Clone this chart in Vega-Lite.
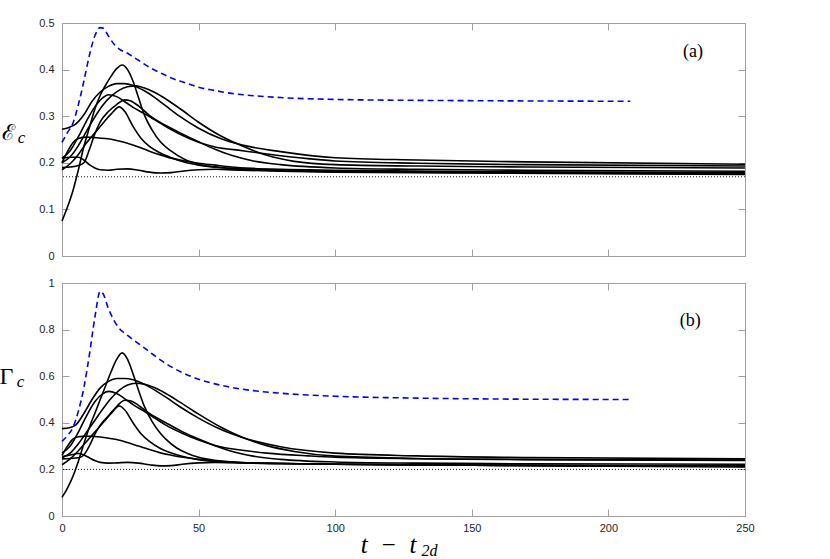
{
"$schema": "https://vega.github.io/schema/vega-lite/v6.json",
"autosize": {"type": "pad"},
"padding": {"left": -2, "top": 16, "right": 10, "bottom": 0},
"background": "white",
"spacing": 27,
"bounds": "flush",
"config": {
 "view": {"stroke": "#a0a0a0", "strokeWidth": 1},
 "axis": {"grid": false, "domain": false, "labelFlush": false, "tickColor": "#a0a0a0", "tickSize": -7, "tickWidth": 1, "labelFont": "Liberation Sans", "labelFontSize": 11, "labelColor": "#262626", "titleColor": "black", "titleFontWeight": "normal"},
 "axisY": {"labelPadding": 15},
 "axisX": {"labelPadding": 13}
},
"datasets": {
 "refs": [
  {"p": "a", "ref": 0.17, "label": "(a)", "lx": 231, "ly": 0.438},
  {"p": "b", "ref": 0.2, "label": "(b)", "lx": 230, "ly": 0.839}
 ],
 "curves": [
{"p":"a","s":"k1","t":0,"v":0.075},{"p":"a","s":"k1","t":2,"v":0.105},{"p":"a","s":"k1","t":4,"v":0.14},{"p":"a","s":"k1","t":6,"v":0.185},{"p":"a","s":"k1","t":8,"v":0.235},{"p":"a","s":"k1","t":10,"v":0.275},{"p":"a","s":"k1","t":12,"v":0.315},{"p":"a","s":"k1","t":14,"v":0.345},{"p":"a","s":"k1","t":16,"v":0.367},{"p":"a","s":"k1","t":18,"v":0.386},{"p":"a","s":"k1","t":20,"v":0.402},{"p":"a","s":"k1","t":22,"v":0.41},{"p":"a","s":"k1","t":24,"v":0.4},{"p":"a","s":"k1","t":26,"v":0.375},{"p":"a","s":"k1","t":28,"v":0.34},{"p":"a","s":"k1","t":30,"v":0.305},{"p":"a","s":"k1","t":33,"v":0.27},{"p":"a","s":"k1","t":36,"v":0.245},{"p":"a","s":"k1","t":40,"v":0.225},{"p":"a","s":"k1","t":45,"v":0.207},{"p":"a","s":"k1","t":50,"v":0.197},{"p":"a","s":"k1","t":58,"v":0.19},{"p":"a","s":"k1","t":66,"v":0.186},{"p":"a","s":"k1","t":80,"v":0.183},{"p":"a","s":"k1","t":100,"v":0.181},{"p":"a","s":"k1","t":130,"v":0.18},{"p":"a","s":"k1","t":170,"v":0.178},{"p":"a","s":"k1","t":250,"v":0.176},
{"p":"a","s":"k2","t":0,"v":0.272},{"p":"a","s":"k2","t":3,"v":0.277},{"p":"a","s":"k2","t":5,"v":0.283},{"p":"a","s":"k2","t":8,"v":0.303},{"p":"a","s":"k2","t":11,"v":0.332},{"p":"a","s":"k2","t":14,"v":0.352},{"p":"a","s":"k2","t":17,"v":0.364},{"p":"a","s":"k2","t":20,"v":0.37},{"p":"a","s":"k2","t":23,"v":0.37},{"p":"a","s":"k2","t":26,"v":0.366},{"p":"a","s":"k2","t":30,"v":0.355},{"p":"a","s":"k2","t":34,"v":0.34},{"p":"a","s":"k2","t":38,"v":0.322},{"p":"a","s":"k2","t":43,"v":0.3},{"p":"a","s":"k2","t":50,"v":0.274},{"p":"a","s":"k2","t":58,"v":0.252},{"p":"a","s":"k2","t":66,"v":0.238},{"p":"a","s":"k2","t":80,"v":0.224},{"p":"a","s":"k2","t":100,"v":0.211},{"p":"a","s":"k2","t":130,"v":0.206},{"p":"a","s":"k2","t":170,"v":0.202},{"p":"a","s":"k2","t":250,"v":0.197},
{"p":"a","s":"k3","t":0,"v":0.2},{"p":"a","s":"k3","t":3,"v":0.213},{"p":"a","s":"k3","t":6,"v":0.237},{"p":"a","s":"k3","t":9,"v":0.268},{"p":"a","s":"k3","t":12,"v":0.298},{"p":"a","s":"k3","t":15,"v":0.324},{"p":"a","s":"k3","t":18,"v":0.343},{"p":"a","s":"k3","t":21,"v":0.356},{"p":"a","s":"k3","t":24,"v":0.363},{"p":"a","s":"k3","t":27,"v":0.365},{"p":"a","s":"k3","t":30,"v":0.361},{"p":"a","s":"k3","t":34,"v":0.351},{"p":"a","s":"k3","t":38,"v":0.337},{"p":"a","s":"k3","t":43,"v":0.317},{"p":"a","s":"k3","t":50,"v":0.287},{"p":"a","s":"k3","t":58,"v":0.258},{"p":"a","s":"k3","t":66,"v":0.236},{"p":"a","s":"k3","t":75,"v":0.216},{"p":"a","s":"k3","t":85,"v":0.203},{"p":"a","s":"k3","t":100,"v":0.196},{"p":"a","s":"k3","t":130,"v":0.193},{"p":"a","s":"k3","t":170,"v":0.191},{"p":"a","s":"k3","t":250,"v":0.189},
{"p":"a","s":"k4","t":0,"v":0.21},{"p":"a","s":"k4","t":3,"v":0.226},{"p":"a","s":"k4","t":6,"v":0.256},{"p":"a","s":"k4","t":9,"v":0.29},{"p":"a","s":"k4","t":12,"v":0.32},{"p":"a","s":"k4","t":15,"v":0.34},{"p":"a","s":"k4","t":17,"v":0.346},{"p":"a","s":"k4","t":20,"v":0.342},{"p":"a","s":"k4","t":23,"v":0.331},{"p":"a","s":"k4","t":26,"v":0.319},{"p":"a","s":"k4","t":30,"v":0.306},{"p":"a","s":"k4","t":34,"v":0.292},{"p":"a","s":"k4","t":38,"v":0.278},{"p":"a","s":"k4","t":44,"v":0.259},{"p":"a","s":"k4","t":50,"v":0.244},{"p":"a","s":"k4","t":56,"v":0.234},{"p":"a","s":"k4","t":66,"v":0.226},{"p":"a","s":"k4","t":75,"v":0.219},{"p":"a","s":"k4","t":90,"v":0.209},{"p":"a","s":"k4","t":100,"v":0.204},{"p":"a","s":"k4","t":130,"v":0.199},{"p":"a","s":"k4","t":170,"v":0.196},{"p":"a","s":"k4","t":250,"v":0.193},
{"p":"a","s":"k5","t":0,"v":0.19},{"p":"a","s":"k5","t":3,"v":0.191},{"p":"a","s":"k5","t":6,"v":0.194},{"p":"a","s":"k5","t":8,"v":0.2},{"p":"a","s":"k5","t":10,"v":0.228},{"p":"a","s":"k5","t":12,"v":0.262},{"p":"a","s":"k5","t":14,"v":0.288},{"p":"a","s":"k5","t":17,"v":0.31},{"p":"a","s":"k5","t":20,"v":0.325},{"p":"a","s":"k5","t":23,"v":0.335},{"p":"a","s":"k5","t":25,"v":0.333},{"p":"a","s":"k5","t":28,"v":0.322},{"p":"a","s":"k5","t":32,"v":0.302},{"p":"a","s":"k5","t":38,"v":0.28},{"p":"a","s":"k5","t":44,"v":0.262},{"p":"a","s":"k5","t":50,"v":0.245},{"p":"a","s":"k5","t":56,"v":0.229},{"p":"a","s":"k5","t":62,"v":0.216},{"p":"a","s":"k5","t":70,"v":0.204},{"p":"a","s":"k5","t":80,"v":0.196},{"p":"a","s":"k5","t":100,"v":0.189},{"p":"a","s":"k5","t":130,"v":0.186},{"p":"a","s":"k5","t":170,"v":0.184},{"p":"a","s":"k5","t":250,"v":0.182},
{"p":"a","s":"k6","t":0,"v":0.185},{"p":"a","s":"k6","t":3,"v":0.198},{"p":"a","s":"k6","t":6,"v":0.218},{"p":"a","s":"k6","t":9,"v":0.243},{"p":"a","s":"k6","t":12,"v":0.264},{"p":"a","s":"k6","t":15,"v":0.285},{"p":"a","s":"k6","t":18,"v":0.305},{"p":"a","s":"k6","t":21,"v":0.32},{"p":"a","s":"k6","t":23,"v":0.31},{"p":"a","s":"k6","t":26,"v":0.278},{"p":"a","s":"k6","t":29,"v":0.252},{"p":"a","s":"k6","t":32,"v":0.235},{"p":"a","s":"k6","t":36,"v":0.221},{"p":"a","s":"k6","t":40,"v":0.211},{"p":"a","s":"k6","t":45,"v":0.201},{"p":"a","s":"k6","t":50,"v":0.195},{"p":"a","s":"k6","t":60,"v":0.189},{"p":"a","s":"k6","t":80,"v":0.185},{"p":"a","s":"k6","t":100,"v":0.182},{"p":"a","s":"k6","t":150,"v":0.18},{"p":"a","s":"k6","t":250,"v":0.178},
{"p":"a","s":"k7","t":0,"v":0.2},{"p":"a","s":"k7","t":2,"v":0.224},{"p":"a","s":"k7","t":4,"v":0.243},{"p":"a","s":"k7","t":6,"v":0.252},{"p":"a","s":"k7","t":9,"v":0.255},{"p":"a","s":"k7","t":12,"v":0.254},{"p":"a","s":"k7","t":16,"v":0.252},{"p":"a","s":"k7","t":20,"v":0.248},{"p":"a","s":"k7","t":24,"v":0.242},{"p":"a","s":"k7","t":28,"v":0.234},{"p":"a","s":"k7","t":32,"v":0.225},{"p":"a","s":"k7","t":36,"v":0.217},{"p":"a","s":"k7","t":40,"v":0.21},{"p":"a","s":"k7","t":45,"v":0.204},{"p":"a","s":"k7","t":50,"v":0.199},{"p":"a","s":"k7","t":56,"v":0.195},{"p":"a","s":"k7","t":62,"v":0.191},{"p":"a","s":"k7","t":70,"v":0.188},{"p":"a","s":"k7","t":80,"v":0.186},{"p":"a","s":"k7","t":100,"v":0.184},{"p":"a","s":"k7","t":150,"v":0.181},{"p":"a","s":"k7","t":250,"v":0.179},
{"p":"a","s":"k8","t":0,"v":0.21},{"p":"a","s":"k8","t":3,"v":0.212},{"p":"a","s":"k8","t":6,"v":0.212},{"p":"a","s":"k8","t":8,"v":0.206},{"p":"a","s":"k8","t":10,"v":0.196},{"p":"a","s":"k8","t":12,"v":0.189},{"p":"a","s":"k8","t":14,"v":0.185},{"p":"a","s":"k8","t":17,"v":0.184},{"p":"a","s":"k8","t":20,"v":0.186},{"p":"a","s":"k8","t":24,"v":0.187},{"p":"a","s":"k8","t":28,"v":0.184},{"p":"a","s":"k8","t":32,"v":0.18},{"p":"a","s":"k8","t":36,"v":0.178},{"p":"a","s":"k8","t":40,"v":0.179},{"p":"a","s":"k8","t":44,"v":0.182},{"p":"a","s":"k8","t":50,"v":0.185},{"p":"a","s":"k8","t":56,"v":0.186},{"p":"a","s":"k8","t":66,"v":0.184},{"p":"a","s":"k8","t":80,"v":0.182},{"p":"a","s":"k8","t":100,"v":0.18},{"p":"a","s":"k8","t":150,"v":0.178},{"p":"a","s":"k8","t":250,"v":0.175},
{"p":"a","s":"blue","t":0,"v":0.244},{"p":"a","s":"blue","t":2,"v":0.265},{"p":"a","s":"blue","t":4,"v":0.285},{"p":"a","s":"blue","t":6,"v":0.325},{"p":"a","s":"blue","t":8,"v":0.375},{"p":"a","s":"blue","t":10,"v":0.43},{"p":"a","s":"blue","t":12,"v":0.472},{"p":"a","s":"blue","t":14,"v":0.49},{"p":"a","s":"blue","t":15,"v":0.489},{"p":"a","s":"blue","t":17,"v":0.472},{"p":"a","s":"blue","t":19,"v":0.455},{"p":"a","s":"blue","t":21,"v":0.444},{"p":"a","s":"blue","t":24,"v":0.435},{"p":"a","s":"blue","t":28,"v":0.42},{"p":"a","s":"blue","t":32,"v":0.405},{"p":"a","s":"blue","t":36,"v":0.393},{"p":"a","s":"blue","t":40,"v":0.382},{"p":"a","s":"blue","t":45,"v":0.372},{"p":"a","s":"blue","t":50,"v":0.362},{"p":"a","s":"blue","t":56,"v":0.355},{"p":"a","s":"blue","t":62,"v":0.349},{"p":"a","s":"blue","t":70,"v":0.344},{"p":"a","s":"blue","t":80,"v":0.34},{"p":"a","s":"blue","t":100,"v":0.336},{"p":"a","s":"blue","t":130,"v":0.334},{"p":"a","s":"blue","t":160,"v":0.333},{"p":"a","s":"blue","t":208,"v":0.332},
{"p":"b","s":"k1","t":0,"v":0.08},{"p":"b","s":"k1","t":2,"v":0.12},{"p":"b","s":"k1","t":4,"v":0.17},{"p":"b","s":"k1","t":6,"v":0.235},{"p":"b","s":"k1","t":8,"v":0.31},{"p":"b","s":"k1","t":10,"v":0.38},{"p":"b","s":"k1","t":12,"v":0.44},{"p":"b","s":"k1","t":14,"v":0.5},{"p":"b","s":"k1","t":16,"v":0.56},{"p":"b","s":"k1","t":18,"v":0.62},{"p":"b","s":"k1","t":20,"v":0.672},{"p":"b","s":"k1","t":22,"v":0.7},{"p":"b","s":"k1","t":24,"v":0.672},{"p":"b","s":"k1","t":26,"v":0.61},{"p":"b","s":"k1","t":28,"v":0.54},{"p":"b","s":"k1","t":30,"v":0.475},{"p":"b","s":"k1","t":33,"v":0.405},{"p":"b","s":"k1","t":36,"v":0.355},{"p":"b","s":"k1","t":38,"v":0.33},{"p":"b","s":"k1","t":42,"v":0.292},{"p":"b","s":"k1","t":46,"v":0.268},{"p":"b","s":"k1","t":50,"v":0.252},{"p":"b","s":"k1","t":56,"v":0.239},{"p":"b","s":"k1","t":66,"v":0.229},{"p":"b","s":"k1","t":80,"v":0.225},{"p":"b","s":"k1","t":100,"v":0.222},{"p":"b","s":"k1","t":150,"v":0.218},{"p":"b","s":"k1","t":250,"v":0.213},
{"p":"b","s":"k2","t":0,"v":0.375},{"p":"b","s":"k2","t":3,"v":0.38},{"p":"b","s":"k2","t":5,"v":0.39},{"p":"b","s":"k2","t":8,"v":0.44},{"p":"b","s":"k2","t":11,"v":0.5},{"p":"b","s":"k2","t":14,"v":0.55},{"p":"b","s":"k2","t":17,"v":0.578},{"p":"b","s":"k2","t":20,"v":0.59},{"p":"b","s":"k2","t":23,"v":0.59},{"p":"b","s":"k2","t":26,"v":0.585},{"p":"b","s":"k2","t":30,"v":0.566},{"p":"b","s":"k2","t":34,"v":0.54},{"p":"b","s":"k2","t":38,"v":0.51},{"p":"b","s":"k2","t":43,"v":0.47},{"p":"b","s":"k2","t":50,"v":0.42},{"p":"b","s":"k2","t":58,"v":0.372},{"p":"b","s":"k2","t":66,"v":0.337},{"p":"b","s":"k2","t":80,"v":0.297},{"p":"b","s":"k2","t":100,"v":0.27},{"p":"b","s":"k2","t":130,"v":0.258},{"p":"b","s":"k2","t":170,"v":0.251},{"p":"b","s":"k2","t":250,"v":0.245},
{"p":"b","s":"k3","t":0,"v":0.25},{"p":"b","s":"k3","t":3,"v":0.27},{"p":"b","s":"k3","t":6,"v":0.31},{"p":"b","s":"k3","t":9,"v":0.36},{"p":"b","s":"k3","t":12,"v":0.41},{"p":"b","s":"k3","t":15,"v":0.46},{"p":"b","s":"k3","t":18,"v":0.505},{"p":"b","s":"k3","t":21,"v":0.54},{"p":"b","s":"k3","t":24,"v":0.562},{"p":"b","s":"k3","t":27,"v":0.57},{"p":"b","s":"k3","t":30,"v":0.566},{"p":"b","s":"k3","t":34,"v":0.55},{"p":"b","s":"k3","t":38,"v":0.526},{"p":"b","s":"k3","t":43,"v":0.49},{"p":"b","s":"k3","t":50,"v":0.437},{"p":"b","s":"k3","t":58,"v":0.382},{"p":"b","s":"k3","t":66,"v":0.338},{"p":"b","s":"k3","t":75,"v":0.302},{"p":"b","s":"k3","t":85,"v":0.277},{"p":"b","s":"k3","t":100,"v":0.257},{"p":"b","s":"k3","t":130,"v":0.247},{"p":"b","s":"k3","t":170,"v":0.242},{"p":"b","s":"k3","t":250,"v":0.238},
{"p":"b","s":"k4","t":0,"v":0.27},{"p":"b","s":"k4","t":3,"v":0.3},{"p":"b","s":"k4","t":6,"v":0.36},{"p":"b","s":"k4","t":9,"v":0.43},{"p":"b","s":"k4","t":12,"v":0.49},{"p":"b","s":"k4","t":15,"v":0.525},{"p":"b","s":"k4","t":17,"v":0.535},{"p":"b","s":"k4","t":20,"v":0.526},{"p":"b","s":"k4","t":23,"v":0.503},{"p":"b","s":"k4","t":26,"v":0.478},{"p":"b","s":"k4","t":30,"v":0.45},{"p":"b","s":"k4","t":34,"v":0.42},{"p":"b","s":"k4","t":38,"v":0.39},{"p":"b","s":"k4","t":44,"v":0.355},{"p":"b","s":"k4","t":50,"v":0.326},{"p":"b","s":"k4","t":56,"v":0.303},{"p":"b","s":"k4","t":66,"v":0.282},{"p":"b","s":"k4","t":75,"v":0.27},{"p":"b","s":"k4","t":90,"v":0.258},{"p":"b","s":"k4","t":100,"v":0.252},{"p":"b","s":"k4","t":130,"v":0.246},{"p":"b","s":"k4","t":170,"v":0.243},{"p":"b","s":"k4","t":250,"v":0.24},
{"p":"b","s":"k5","t":0,"v":0.245},{"p":"b","s":"k5","t":3,"v":0.247},{"p":"b","s":"k5","t":6,"v":0.25},{"p":"b","s":"k5","t":8,"v":0.262},{"p":"b","s":"k5","t":10,"v":0.3},{"p":"b","s":"k5","t":12,"v":0.35},{"p":"b","s":"k5","t":14,"v":0.39},{"p":"b","s":"k5","t":17,"v":0.43},{"p":"b","s":"k5","t":20,"v":0.47},{"p":"b","s":"k5","t":23,"v":0.497},{"p":"b","s":"k5","t":25,"v":0.495},{"p":"b","s":"k5","t":28,"v":0.475},{"p":"b","s":"k5","t":32,"v":0.44},{"p":"b","s":"k5","t":38,"v":0.4},{"p":"b","s":"k5","t":44,"v":0.362},{"p":"b","s":"k5","t":50,"v":0.33},{"p":"b","s":"k5","t":56,"v":0.302},{"p":"b","s":"k5","t":62,"v":0.278},{"p":"b","s":"k5","t":70,"v":0.257},{"p":"b","s":"k5","t":80,"v":0.243},{"p":"b","s":"k5","t":100,"v":0.232},{"p":"b","s":"k5","t":130,"v":0.227},{"p":"b","s":"k5","t":170,"v":0.224},{"p":"b","s":"k5","t":250,"v":0.222},
{"p":"b","s":"k6","t":0,"v":0.22},{"p":"b","s":"k6","t":3,"v":0.245},{"p":"b","s":"k6","t":6,"v":0.28},{"p":"b","s":"k6","t":9,"v":0.32},{"p":"b","s":"k6","t":12,"v":0.36},{"p":"b","s":"k6","t":15,"v":0.4},{"p":"b","s":"k6","t":18,"v":0.44},{"p":"b","s":"k6","t":21,"v":0.472},{"p":"b","s":"k6","t":23,"v":0.455},{"p":"b","s":"k6","t":26,"v":0.4},{"p":"b","s":"k6","t":29,"v":0.352},{"p":"b","s":"k6","t":32,"v":0.32},{"p":"b","s":"k6","t":36,"v":0.29},{"p":"b","s":"k6","t":40,"v":0.27},{"p":"b","s":"k6","t":45,"v":0.253},{"p":"b","s":"k6","t":50,"v":0.242},{"p":"b","s":"k6","t":60,"v":0.231},{"p":"b","s":"k6","t":80,"v":0.225},{"p":"b","s":"k6","t":100,"v":0.222},{"p":"b","s":"k6","t":150,"v":0.218},{"p":"b","s":"k6","t":250,"v":0.215},
{"p":"b","s":"k7","t":0,"v":0.26},{"p":"b","s":"k7","t":2,"v":0.3},{"p":"b","s":"k7","t":4,"v":0.33},{"p":"b","s":"k7","t":6,"v":0.34},{"p":"b","s":"k7","t":9,"v":0.343},{"p":"b","s":"k7","t":12,"v":0.341},{"p":"b","s":"k7","t":16,"v":0.336},{"p":"b","s":"k7","t":20,"v":0.328},{"p":"b","s":"k7","t":24,"v":0.315},{"p":"b","s":"k7","t":28,"v":0.3},{"p":"b","s":"k7","t":32,"v":0.285},{"p":"b","s":"k7","t":36,"v":0.271},{"p":"b","s":"k7","t":40,"v":0.261},{"p":"b","s":"k7","t":45,"v":0.251},{"p":"b","s":"k7","t":50,"v":0.243},{"p":"b","s":"k7","t":56,"v":0.237},{"p":"b","s":"k7","t":62,"v":0.232},{"p":"b","s":"k7","t":70,"v":0.228},{"p":"b","s":"k7","t":80,"v":0.225},{"p":"b","s":"k7","t":100,"v":0.222},{"p":"b","s":"k7","t":150,"v":0.218},{"p":"b","s":"k7","t":250,"v":0.214},
{"p":"b","s":"k8","t":0,"v":0.255},{"p":"b","s":"k8","t":3,"v":0.262},{"p":"b","s":"k8","t":6,"v":0.268},{"p":"b","s":"k8","t":8,"v":0.262},{"p":"b","s":"k8","t":10,"v":0.25},{"p":"b","s":"k8","t":12,"v":0.238},{"p":"b","s":"k8","t":14,"v":0.23},{"p":"b","s":"k8","t":17,"v":0.227},{"p":"b","s":"k8","t":20,"v":0.228},{"p":"b","s":"k8","t":24,"v":0.23},{"p":"b","s":"k8","t":28,"v":0.227},{"p":"b","s":"k8","t":32,"v":0.22},{"p":"b","s":"k8","t":36,"v":0.215},{"p":"b","s":"k8","t":40,"v":0.216},{"p":"b","s":"k8","t":44,"v":0.222},{"p":"b","s":"k8","t":50,"v":0.228},{"p":"b","s":"k8","t":56,"v":0.23},{"p":"b","s":"k8","t":66,"v":0.228},{"p":"b","s":"k8","t":80,"v":0.225},{"p":"b","s":"k8","t":100,"v":0.222},{"p":"b","s":"k8","t":150,"v":0.218},{"p":"b","s":"k8","t":250,"v":0.21},
{"p":"b","s":"blue","t":0,"v":0.32},{"p":"b","s":"blue","t":2,"v":0.345},{"p":"b","s":"blue","t":4,"v":0.38},{"p":"b","s":"blue","t":6,"v":0.45},{"p":"b","s":"blue","t":8,"v":0.55},{"p":"b","s":"blue","t":10,"v":0.69},{"p":"b","s":"blue","t":12,"v":0.85},{"p":"b","s":"blue","t":14,"v":0.965},{"p":"b","s":"blue","t":15,"v":0.955},{"p":"b","s":"blue","t":17,"v":0.89},{"p":"b","s":"blue","t":19,"v":0.84},{"p":"b","s":"blue","t":21,"v":0.805},{"p":"b","s":"blue","t":24,"v":0.775},{"p":"b","s":"blue","t":28,"v":0.74},{"p":"b","s":"blue","t":32,"v":0.705},{"p":"b","s":"blue","t":36,"v":0.67},{"p":"b","s":"blue","t":40,"v":0.64},{"p":"b","s":"blue","t":45,"v":0.61},{"p":"b","s":"blue","t":50,"v":0.587},{"p":"b","s":"blue","t":56,"v":0.567},{"p":"b","s":"blue","t":62,"v":0.552},{"p":"b","s":"blue","t":70,"v":0.538},{"p":"b","s":"blue","t":80,"v":0.527},{"p":"b","s":"blue","t":100,"v":0.514},{"p":"b","s":"blue","t":130,"v":0.506},{"p":"b","s":"blue","t":160,"v":0.502},{"p":"b","s":"blue","t":208,"v":0.5}
 ]
},
"vconcat": [
 {
  "width": 683, "height": 233,
  "layer": [
   {
    "data": {"name": "curves"},
    "transform": [{"filter": "datum.p === 'a' && datum.s !== 'blue'"}],
    "mark": {"type": "line", "interpolate": "monotone", "strokeWidth": 1.6, "color": "black"},
    "encoding": {
     "x": {"field": "t", "type": "quantitative", "scale": {"domain": [0, 250], "nice": false}, "axis": {"orient": "bottom", "values": [0, 50, 100, 150, 200, 250], "labels": false, "title": null}},
     "y": {"field": "v", "type": "quantitative", "scale": {"domain": [0, 0.5], "nice": false}, "axis": {"orient": "left", "values": [0, 0.1, 0.2, 0.3, 0.4, 0.5], "format": "~g", "title": "ℰ", "titleAngle": 0, "titleX": -54, "titleY": 116, "titleAlign": "center", "titleBaseline": "alphabetic", "titleFont": "DejaVu Serif", "titleFontSize": 22}},
     "detail": {"field": "s"}
    }
   },
   {
    "data": {"name": "curves"},
    "transform": [{"filter": "datum.p === 'a' && datum.s === 'blue'"}],
    "mark": {"type": "line", "interpolate": "monotone", "strokeWidth": 1.6, "color": "#0000ff", "strokeDash": [6, 4]},
    "encoding": {
     "x": {"field": "t", "type": "quantitative", "scale": {"domain": [0, 250], "nice": false}, "axis": {"orient": "top", "values": [0, 50, 100, 150, 200, 250], "labels": false, "title": null}},
     "y": {"field": "v", "type": "quantitative", "scale": {"domain": [0, 0.5], "nice": false}, "axis": {"orient": "right", "values": [0, 0.1, 0.2, 0.3, 0.4, 0.5], "labels": false, "title": "c", "titleAngle": 0, "titleX": -724, "titleY": 119, "titleAlign": "center", "titleBaseline": "alphabetic", "titleFont": "Liberation Serif", "titleFontStyle": "italic", "titleFontSize": 17}}
    }
   },
   {
    "data": {"name": "refs"},
    "transform": [{"filter": "datum.p === 'a'"}],
    "mark": {"type": "rule", "strokeDash": [1, 2], "strokeWidth": 0.9, "color": "black"},
    "encoding": {
     "y": {"field": "ref", "type": "quantitative", "scale": {"domain": [0, 0.5], "nice": false}, "axis": null}
    }
   },
   {
    "data": {"name": "refs"},
    "transform": [{"filter": "datum.p === 'a'"}],
    "mark": {"type": "text", "font": "Liberation Serif", "fontSize": 18, "color": "black"},
    "encoding": {
     "x": {"field": "lx", "type": "quantitative", "scale": {"domain": [0, 250], "nice": false}, "axis": null},
     "y": {"field": "ly", "type": "quantitative", "scale": {"domain": [0, 0.5], "nice": false}, "axis": null},
     "text": {"field": "label"}
    }
   }
  ],
  "resolve": {"axis": {"x": "independent", "y": "independent"}}
 },
 {
  "width": 683, "height": 233,
  "layer": [
   {
    "data": {"name": "curves"},
    "transform": [{"filter": "datum.p === 'b' && datum.s !== 'blue'"}],
    "mark": {"type": "line", "interpolate": "monotone", "strokeWidth": 1.6, "color": "black"},
    "encoding": {
     "x": {"field": "t", "type": "quantitative", "scale": {"domain": [0, 250], "nice": false}, "axis": {"orient": "bottom", "values": [0, 50, 100, 150, 200, 250], "format": "d", "title": "t\u2002−\u2002t", "titleX": 326, "titleY": 36, "titleAlign": "center", "titleBaseline": "alphabetic", "titleFont": "Liberation Serif", "titleFontStyle": "italic", "titleFontSize": 25}},
     "y": {"field": "v", "type": "quantitative", "scale": {"domain": [0, 1], "nice": false}, "axis": {"orient": "left", "values": [0, 0.2, 0.4, 0.6, 0.8, 1], "format": "~g", "title": "Γ", "titleAngle": 0, "titleX": -56, "titleY": 100, "titleAlign": "center", "titleBaseline": "alphabetic", "titleFont": "Liberation Serif", "titleFontSize": 24}},
     "detail": {"field": "s"}
    }
   },
   {
    "data": {"name": "curves"},
    "transform": [{"filter": "datum.p === 'b' && datum.s === 'blue'"}],
    "mark": {"type": "line", "interpolate": "monotone", "strokeWidth": 1.6, "color": "#0000ff", "strokeDash": [6, 4]},
    "encoding": {
     "x": {"field": "t", "type": "quantitative", "scale": {"domain": [0, 250], "nice": false}, "axis": {"orient": "top", "values": [0, 50, 100, 150, 200, 250], "labels": false, "title": "2d", "titleX": 367, "titleY": 272, "titleAlign": "center", "titleBaseline": "alphabetic", "titleFont": "Liberation Serif", "titleFontStyle": "italic", "titleFontSize": 16}},
     "y": {"field": "v", "type": "quantitative", "scale": {"domain": [0, 1], "nice": false}, "axis": {"orient": "right", "values": [0, 0.2, 0.4, 0.6, 0.8, 1], "labels": false, "title": "c", "titleAngle": 0, "titleX": -725, "titleY": 103, "titleAlign": "center", "titleBaseline": "alphabetic", "titleFont": "Liberation Serif", "titleFontStyle": "italic", "titleFontSize": 17}}
    }
   },
   {
    "data": {"name": "refs"},
    "transform": [{"filter": "datum.p === 'b'"}],
    "mark": {"type": "rule", "strokeDash": [1, 2], "strokeWidth": 0.9, "color": "black"},
    "encoding": {
     "y": {"field": "ref", "type": "quantitative", "scale": {"domain": [0, 1], "nice": false}, "axis": null}
    }
   },
   {
    "data": {"name": "refs"},
    "transform": [{"filter": "datum.p === 'b'"}],
    "mark": {"type": "text", "font": "Liberation Serif", "fontSize": 18, "color": "black"},
    "encoding": {
     "x": {"field": "lx", "type": "quantitative", "scale": {"domain": [0, 250], "nice": false}, "axis": null},
     "y": {"field": "ly", "type": "quantitative", "scale": {"domain": [0, 1], "nice": false}, "axis": null},
     "text": {"field": "label"}
    }
   }
  ],
  "resolve": {"axis": {"x": "independent", "y": "independent"}}
 }
]
}
